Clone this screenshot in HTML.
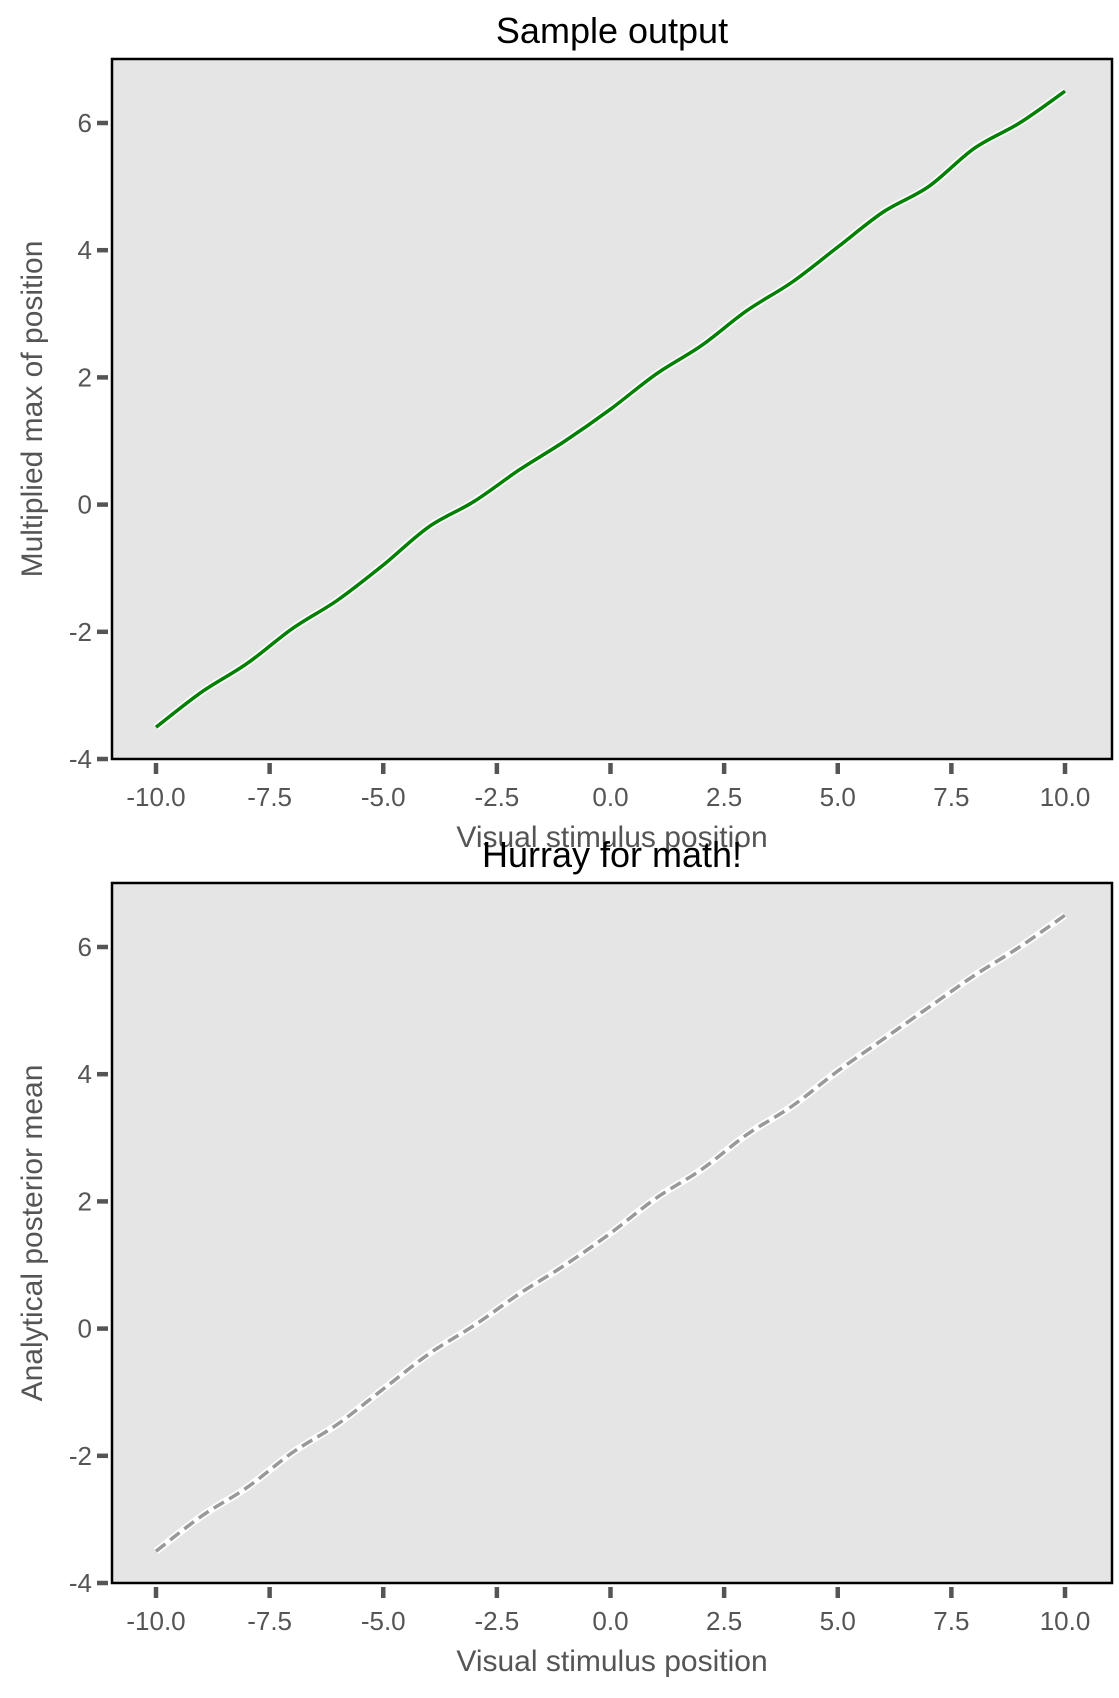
<!DOCTYPE html>
<html><head><meta charset="utf-8"><style>
html,body{margin:0;padding:0;background:#fff}
svg{display:block}
text{font-family:"Liberation Sans",sans-serif}
</style></head><body>
<svg id="chart" width="1119" height="1698" xmlns="http://www.w3.org/2000/svg"></svg>
<script>
const xValues=[-10,-9,-8,-7,-6,-5,-4,-3,-2,-1,0,1,2,3,4,5,6,7,8,9,10];
const sampleOutput=[-3.5,-2.95,-2.5,-1.95,-1.5,-0.95,-0.35,0.05,0.55,1.0,1.5,2.05,2.5,3.05,3.5,4.05,4.6,5.0,5.6,6.0,6.5];
const analyticalMean=[-3.5,-2.95,-2.5,-1.95,-1.5,-0.95,-0.4,0.05,0.55,1.0,1.5,2.05,2.5,3.05,3.5,4.05,4.55,5.05,5.55,6.0,6.5];
const xTicks=[-10,-7.5,-5,-2.5,0,2.5,5,7.5,10];
const xTickLabels=["-10.0","-7.5","-5.0","-2.5","0.0","2.5","5.0","7.5","10.0"];
const yTicks=[-4,-2,0,2,4,6];
const yTickLabels=["-4","-2","0","2","4","6"];

const NS="http://www.w3.org/2000/svg";
const svg=document.getElementById('chart');
function el(tag,attrs,parent){const e=document.createElementNS(NS,tag);for(const k in attrs)e.setAttribute(k,attrs[k]);(parent||svg).appendChild(e);return e;}

function smoothPath(pts){
  let d='M'+pts[0][0].toFixed(1)+','+pts[0][1].toFixed(1);
  for(let i=0;i<pts.length-1;i++){
    const p0=pts[i-1]||pts[i],p1=pts[i],p2=pts[i+1],p3=pts[i+2]||p2;
    const c1=[p1[0]+(p2[0]-p0[0])/6,p1[1]+(p2[1]-p0[1])/6];
    const c2=[p2[0]-(p3[0]-p1[0])/6,p2[1]-(p3[1]-p1[1])/6];
    d+=' C'+c1[0].toFixed(1)+','+c1[1].toFixed(1)+' '+c2[0].toFixed(1)+','+c2[1].toFixed(1)+' '+p2[0].toFixed(1)+','+p2[1].toFixed(1);
  }
  return d;
}

function panel(top,title,ylabel,values,dashed,prefix){
  const L=112,R=1112,B=top+700;
  const xs=v=>156+(v+10)/20*(1065-156);
  const ys=v=>B-(v+4)*63.6;
  const g=el('g',{});
  
  
  const bg=el('rect',{x:L,y:top,width:R-L,height:B-top,fill:'#e5e5e5'},g);
  
  
  const fr=el('rect',{x:L,y:top,width:R-L,height:B-top,fill:'none',stroke:'#000','stroke-width':2.5},g);
  
  
  xTicks.forEach((t,i)=>{
    const x=xs(t);
    const tk=el('line',{x1:x,x2:x,y1:B+4,y2:B+15,stroke:'#555','stroke-width':4.5},g);
    
    
    const tl=el('text',{x:x,y:B+47,'text-anchor':'middle','font-size':26,fill:'#555'},g);
    tl.textContent=xTickLabels[i];
    
    
  });
  yTicks.forEach((t,i)=>{
    const y=ys(t);
    const tk=el('line',{x1:L-15,x2:L-4,y1:y,y2:y,stroke:'#555','stroke-width':4.5},g);
    
    
    const tl=el('text',{x:L-20,y:y+9,'text-anchor':'end','font-size':26,fill:'#555'},g);
    tl.textContent=yTickLabels[i];
    
    
  });
  const d=smoothPath(values.map((v,i)=>[xs(xValues[i]),ys(v)]));
  el('path',{d:d,fill:'none',stroke:'#fff','stroke-width':7,'stroke-linejoin':'round'},g);
  const ln=el('path',{d:d,fill:'none',stroke:dashed?'#999':'#008000','stroke-width':3.5,'stroke-dasharray':dashed?'12,6':'none','stroke-linejoin':'round'},g);
  
  
  const tt=el('text',{x:(L+R)/2,y:top-16,'text-anchor':'middle','font-size':36,fill:'#000'},g);
  tt.textContent=title;
  
  
  const xl=el('text',{x:(L+R)/2,y:B+88,'text-anchor':'middle','font-size':30,fill:'#555'},g);
  xl.textContent='Visual stimulus position';
  
  
  const cy=(top+B)/2;
  const yl=el('text',{x:42,y:cy,'text-anchor':'middle','font-size':30,fill:'#555',transform:'rotate(-90 42 '+cy+')'},g);
  yl.textContent=ylabel;
  
  
}
panel(59,'Sample output','Multiplied max of position',sampleOutput,false,'top');
panel(883,'Hurray for math!','Analytical posterior mean',analyticalMean,true,'bottom');
</script>
</body></html>
